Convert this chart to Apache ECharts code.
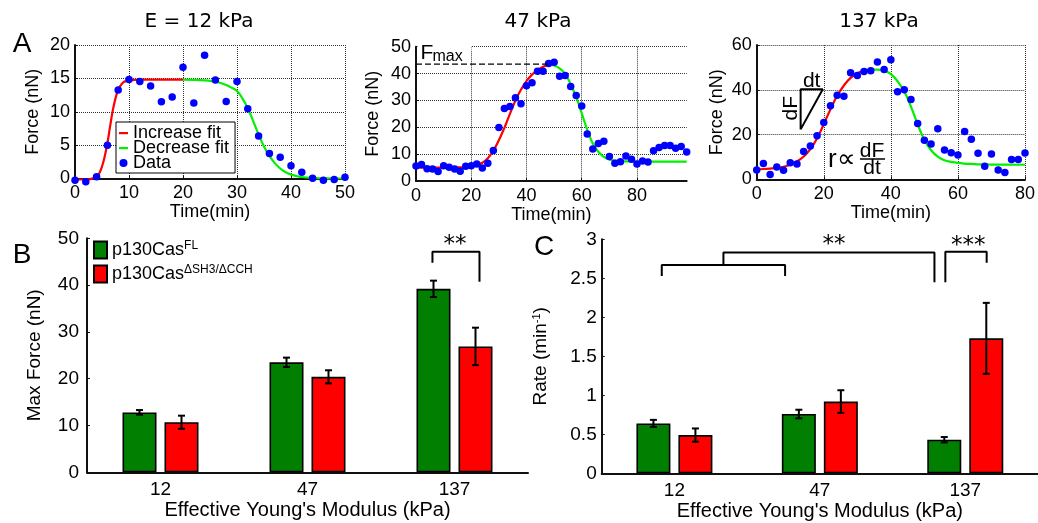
<!DOCTYPE html>
<html>
<head>
<meta charset="utf-8">
<script src="https://cdn.jsdelivr.net/npm/echarts@6/dist/echarts.min.js"></script>
<style>
  html, body { margin: 0; padding: 0; background: #fff; }
  #chart { width: 1038px; height: 523px; }
</style>
</head>
<body>
<div id="chart"></div>
<script>
// ---- Force traces (nN) sampled every 2 min ----
const time12 = [0,2,4,6,8,10,12,14,16,18,20,22,24,26,28,30,32,34,36,38,40,42,44,46,48,50];
const force12 = [-0.25,-0.5,0.25,5,13.25,14.85,14.55,13.85,11.5,12.2,16.65,11.3,18.45,14.75,11.55,14.55,10.45,6.35,3.75,3.2,1.9,0.95,0.05,-0.25,-0.15,0.2];
const riseFit12 = [[0,-0.15],[1,-0.15],[2,-0.15],[3,-0.05],[3.5,0.1],[4,0.3],[4.5,0.8],[5,1.8],[5.5,3.3],[6,5.3],[6.5,7.8],[7,10.2],[7.5,12],[8,13.3],[8.5,14],[9,14.45],[9.5,14.6],[10,14.7],[11,14.78],[12,14.8],[14,14.8],[16,14.8],[18,14.8],[20,14.8]];
const fallFit12 = [[20,14.8],[22,14.78],[24,14.7],[26,14.5],[27,14.3],[28,14],[29,13.6],[30,13.1],[31,12],[32,10.5],[33,8.6],[34,6.6],[35,4.8],[36,3.4],[37,2.3],[38,1.5],[39,0.95],[40,0.6],[41,0.38],[42,0.22],[44,0.08],[46,0.03],[48,0.01],[50,0]];

const time47 = [0,2,4,6,8,10,12,14,16,18,20,22,24,26,28,30,32,34,36,38,40,42,44,46,48,50,52,54,56,58,60,62,64,66,68,70,72,74,76,78,80,82,84,86,88,90,92,94,96,98];
const force47 = [5.6,6.1,4.6,4.5,3.5,5.7,5.1,4.5,3.6,5.5,5.7,6.3,4.8,6.6,11.4,19.9,27,27.7,31,28.8,35.5,36.6,40.9,40.9,43.7,44.2,39,39.3,35.2,31.8,27.9,17.5,11.9,14,14.8,9.1,6.6,7.2,9.3,8.1,6.3,7.4,7.1,11.3,12.5,13.2,13.2,12.2,12.8,10.8];
const riseFit47 = [[0,5],[4,5],[8,5],[12,5],[16,5.05],[18,5.2],[20,5.4],[22,5.9],[24,6.8],[26,8.5],[28,11.3],[30,15.2],[32,19.8],[34,25],[36,30],[38,34],[40,37.2],[42,39.6],[44,41.3],[46,42.5],[48,43.3]];
const fallFit47 = [[48,43.3],[50,43],[52,41.9],[54,39.8],[56,36],[58,31.2],[60,25.2],[62,19],[64,14],[66,10.9],[68,9],[70,8],[72,7.6],[74,7.4],[76,7.3],[80,7.25],[84,7.2],[88,7.2],[92,7.2],[98,7.2]];
const fMax47 = 43.5;

const time137 = [0,2,4,6,8,10,12,14,16,18,20,22,24,26,28,30,32,34,36,38,40,42,44,46,48,50,52,54,56,58,60,62,64,66,68,70,72,74,76,78,80];
const force137 = [4.2,7.1,2.2,5.5,4,7.4,6.8,12.4,14.9,19.5,25.4,32.9,37.5,37.1,47.6,46.4,48.2,48.5,52.4,49.1,53.4,39.1,40,35.6,24.9,17.4,15.8,22.6,13.1,11.9,10.9,21.3,17.9,11.6,5.8,11.3,4.2,3,8.8,8.8,11.8];
const riseFit137 = [[0,4.5],[2,4.6],[4,4.8],[6,5.1],[8,5.6],[10,6.6],[12,8],[14,10.2],[16,13.5],[18,18.3],[20,24.6],[22,31.3],[24,37.3],[26,41.9],[28,45.3],[30,47.4],[32,48.5],[34,49]];
const fallFit137 = [[34,49],[36,49],[38,48.4],[40,47],[42,43.8],[44,39.2],[46,32.5],[48,24.5],[50,17.6],[52,13],[54,10.1],[56,8.5],[58,7.8],[60,7.3],[62,7],[64,6.85],[66,6.7],[70,6.6],[74,6.55],[80,6.5]];

// ---- Summary bars ----
const moduli = ['12', '47', '137'];
const maxForceFL = [12.8, 23.5, 39.2];
const maxForceFLErr = [0.5, 1.0, 1.75];
const maxForceMut = [10.7, 20.4, 26.9];
const maxForceMutErr = [1.4, 1.4, 4.0];
const rateFL = [0.64, 0.76, 0.43];
const rateFLErr = [0.045, 0.055, 0.035];
const rateMut = [0.49, 0.92, 1.73];
const rateMutErr = [0.085, 0.145, 0.455];

const FL_NAME = 'p130Cas FL';
const MUT_NAME = 'p130Cas \u0394SH3/\u0394CCH';

// ---- Styling ----
const FONT = '"Liberation Sans", Arial, sans-serif';
const TITLE_FONT = '"DejaVu Sans", sans-serif';
const BAR_W = 34;
const BAR_GAP_PX = 8;
const CAP = 3.5;
const GREEN_BAR = '#007f00';
const RED_BAR = '#ff0000';
const FIT_RED = '#ff0000';
const FIT_GREEN = '#00f000';
// short dash used as the legend key of a fit curve (blank moves keep the key box square)
const LINE_KEY = 'path://M0,0 M9,8 M0,3 L9,3 L9,5.2 L0,5.2 Z';

const zip = (xs, ys) => xs.map((x, i) => [x, ys[i]]);
const withIndex = (vals, errs) => vals.map((v, i) => [i, v, errs[i]]);

function traceX(grid, max, interval, hideMax) {
  return {
    type: 'value', gridIndex: grid, min: 0, max: max, interval: interval,
    name: 'Time(min)', nameLocation: 'middle', nameGap: 20,
    nameTextStyle: { fontSize: 18, fontFamily: FONT, color: '#000' },
    axisLine: { lineStyle: { color: '#111', width: 2 } },
    axisTick: { inside: true, length: 3, lineStyle: { color: '#111' } },
    axisLabel: { fontSize: 18, margin: 6, color: '#000', fontFamily: FONT, showMaxLabel: !hideMax },
    splitLine: { show: true, showMaxLine: !hideMax, lineStyle: { type: 'dotted', color: '#333', width: 1 } }
  };
}
function traceY(grid, max, interval, gap) {
  return {
    type: 'value', gridIndex: grid, min: 0, max: max, interval: interval,
    name: 'Force (nN)', nameLocation: 'middle', nameGap: gap,
    nameTextStyle: { fontSize: 18, fontFamily: FONT, color: '#000' },
    axisLine: { show: true, lineStyle: { color: '#111', width: 2 } },
    axisTick: { show: true, inside: true, length: 3, lineStyle: { color: '#111' } },
    axisLabel: { fontSize: 18, margin: 5, color: '#000', fontFamily: FONT },
    splitLine: { show: true, lineStyle: { type: 'dotted', color: '#333', width: 1 } }
  };
}
function catX(grid) {
  return {
    type: 'category', gridIndex: grid, data: moduli,
    name: "Effective Young's Modulus (kPa)", nameLocation: 'middle', nameGap: 27,
    nameTextStyle: { fontSize: 20, fontFamily: FONT, color: '#000' },
    axisLine: { lineStyle: { color: '#111', width: 2 } },
    axisTick: { alignWithLabel: true, inside: true, length: 3, lineStyle: { color: '#111' } },
    axisLabel: { fontSize: 19, margin: 8, color: '#000', fontFamily: FONT }
  };
}
function barY(grid, max, interval, name, gap, margin) {
  return {
    type: 'value', gridIndex: grid, min: 0, max: max, interval: interval,
    name: name, nameLocation: 'middle', nameGap: gap,
    nameTextStyle: { fontSize: 19, fontFamily: FONT, color: '#000',
      rich: { sup: { fontSize: 11, fontFamily: FONT, color: '#000', verticalAlign: 'top', lineHeight: 10 } } },
    axisLine: { show: true, lineStyle: { color: '#111', width: 2 } },
    axisTick: { show: true, inside: true, length: 3, lineStyle: { color: '#111' } },
    axisLabel: { fontSize: 19, margin: margin, color: '#000', fontFamily: FONT },
    splitLine: { show: false }
  };
}
function fitLine(name, color, x, data) {
  return { type: 'line', name: name, xAxisIndex: x, yAxisIndex: x, data: data, smooth: 0.5,
    symbol: 'none', clip: false, lineStyle: { color: color, width: 2.2 }, itemStyle: { color: color }, z: 3 };
}
function dots(x, data) {
  return { type: 'scatter', name: 'Data', xAxisIndex: x, yAxisIndex: x, data: data, symbolSize: 7.5, clip: false,
    itemStyle: { color: '#0000ff', opacity: 1 }, z: 4 };
}
function annoLine(x, y, data, extra) {
  return Object.assign({ type: 'line', xAxisIndex: x, yAxisIndex: y, data: data, symbol: 'none', clip: false,
    lineStyle: { color: '#000', width: 2 }, z: 5, silent: true }, extra || {});
}
function bars(name, color, x, y, data) {
  return { type: 'bar', name: name, xAxisIndex: x, yAxisIndex: y, data: data, barWidth: BAR_W,
    barGap: (BAR_GAP_PX / BAR_W * 100).toFixed(1) + '%',
    itemStyle: { color: color, borderColor: '#000', borderWidth: 1.6 } };
}
function errorBars(x, y, side, data) {
  return {
    type: 'custom', xAxisIndex: x, yAxisIndex: y, data: data, z: 6, silent: true,
    renderItem: function (params, api) {
      const i = api.value(0), v = api.value(1), e = api.value(2);
      const hi = api.coord([i, v + e]);
      const lo = api.coord([i, v - e]);
      const cx = hi[0] + side * (BAR_W + BAR_GAP_PX) / 2;
      const seg = (x1, y1, x2, y2) => ({ type: 'line', shape: { x1: x1, y1: y1, x2: x2, y2: y2 },
        style: { stroke: '#000', lineWidth: 2 } });
      return { type: 'group', children: [
        seg(cx, hi[1], cx, lo[1]),
        seg(cx - CAP, hi[1], cx + CAP, hi[1]),
        seg(cx - CAP, lo[1], cx + CAP, lo[1])
      ] };
    }
  };
}
function label(x, y, text, size, family, align, extra) {
  const a = align || 'center';
  return Object.assign({ type: 'text', x: x, y: y, z: 100,
    style: { text: text, fontSize: size, fontFamily: family || FONT, fill: '#000',
      align: a, verticalAlign: 'middle', textAlign: a, textVerticalAlign: 'middle' } }, extra || {});
}

const legendNames = {};
legendNames[FL_NAME] = 'p130Cas{sup|FL}';
legendNames[MUT_NAME] = 'p130Cas{sup|\u0394SH3/\u0394CCH}';

const option = {
  animation: false,
  backgroundColor: '#fff',
  grid: [
    { left: 75, top: 45, width: 270, height: 133.5 },
    { left: 416, top: 46.7, width: 270.7, height: 134.3 },
    { left: 756.7, top: 45, width: 270.6, height: 134.3 },
    { left: 87, top: 238.3, width: 441, height: 234 },
    { left: 601.7, top: 239.3, width: 440, height: 234 }
  ],
  xAxis: [
    traceX(0, 50, 10, false),
    traceX(1, 98, 20, true),
    traceX(2, 80, 20, false),
    catX(3),
    { type: 'value', gridIndex: 3, min: 0, max: 3, show: false },
    catX(4),
    { type: 'value', gridIndex: 4, min: 0, max: 3, show: false }
  ],
  yAxis: [
    traceY(0, 20, 5, 33),
    traceY(1, 50, 10, 34),
    traceY(2, 60, 20, 31),
    barY(3, 50, 10, 'Max Force (nN)', 43, 8),
    barY(4, 3, 0.5, 'Rate (min{sup|-1})', 51, 5)
  ],
  legend: [
    {
      data: [
        { name: 'Increase fit', icon: LINE_KEY },
        { name: 'Decrease fit', icon: LINE_KEY },
        { name: 'Data', icon: 'circle' }
      ],
      selectedMode: false,
      left: 116, top: 122, orient: 'vertical', itemWidth: 9, itemHeight: 8, itemGap: -3,
      padding: [2, 6, 1, 3], borderColor: '#000', borderWidth: 1, backgroundColor: '#fff',
      textStyle: { fontSize: 18, lineHeight: 15, fontFamily: FONT, color: '#000' }
    },
    {
      data: [FL_NAME, MUT_NAME], selectedMode: false,
      left: 93, top: 240, orient: 'vertical', icon: 'rect', itemWidth: 13, itemHeight: 17, itemGap: 4,
      padding: 0,
      formatter: function (name) { return legendNames[name]; },
      textStyle: { fontSize: 18, lineHeight: 20, fontFamily: FONT, color: '#000',
        rich: { sup: { fontSize: 12, lineHeight: 12, fontFamily: FONT, color: '#000', verticalAlign: 'top' } } }
    }
  ],
  series: [
    // E = 12 kPa
    fitLine('Increase fit', FIT_RED, 0, riseFit12),
    fitLine('Decrease fit', FIT_GREEN, 0, fallFit12),
    dots(0, zip(time12, force12)),
    // 47 kPa
    annoLine(1, 1, [[0, fMax47], [48, fMax47]], { lineStyle: { color: '#000', width: 1.3, type: [6, 3] } }),
    fitLine('Increase fit', FIT_RED, 1, riseFit47),
    fitLine('Decrease fit', FIT_GREEN, 1, fallFit47),
    dots(1, zip(time47, force47)),
    // 137 kPa
    fitLine('Increase fit', FIT_RED, 2, riseFit137),
    fitLine('Decrease fit', FIT_GREEN, 2, fallFit137),
    dots(2, zip(time137, force137)),
    annoLine(2, 2, [[13.1, 22.3], [13.1, 40.2], [19.7, 40.2], [13.1, 22.3]]),
    // Max force
    bars(FL_NAME, GREEN_BAR, 3, 3, maxForceFL),
    bars(MUT_NAME, RED_BAR, 3, 3, maxForceMut),
    errorBars(3, 3, -1, withIndex(maxForceFL, maxForceFLErr)),
    errorBars(3, 3, 1, withIndex(maxForceMut, maxForceMutErr)),
    annoLine(4, 3, [[2.35, 44.8], [2.35, 47.1], [2.67, 47.1], [2.67, 40.7]]),
    // Rate
    bars(FL_NAME, GREEN_BAR, 5, 4, rateFL),
    bars(MUT_NAME, RED_BAR, 5, 4, rateMut),
    errorBars(5, 4, -1, withIndex(rateFL, rateFLErr)),
    errorBars(5, 4, 1, withIndex(rateMut, rateMutErr)),
    annoLine(6, 4, [[0.413, 2.53], [0.413, 2.67], [1.261, 2.67], [1.261, 2.53]]),
    annoLine(6, 4, [[0.837, 2.67], [0.837, 2.83], [2.288, 2.83], [2.288, 2.45]]),
    annoLine(6, 4, [[2.363, 2.45], [2.363, 2.84], [2.647, 2.84], [2.647, 2.70]])
  ],
  graphic: [
    label(199, 22, 'E = 12 kPa', 20, TITLE_FONT),
    label(538, 22, '47 kPa', 20, TITLE_FONT),
    label(879, 22, '137 kPa', 20, TITLE_FONT),
    label(22, 44, 'A', 28),
    label(22, 255, 'B', 28),
    label(544, 247, 'C', 28),
    { type: 'rect', z: 90, shape: { x: 417.5, y: 42, width: 54, height: 9 }, style: { fill: '#fff' } },
    label(420.5, 53, 'F', 21, FONT, 'left'),
    label(432.5, 57, 'max', 16, FONT, 'left'),
    label(811.7, 81, 'dt', 21),
    label(791, 108.3, 'dF', 21, FONT, 'center', { rotation: Math.PI / 2 }),
    label(828, 159.5, 'r\u221D', 26, FONT, 'left'),
    label(872, 151, 'dF', 21),
    label(872, 168, 'dt', 21),
    { type: 'line', z: 100, shape: { x1: 860, y1: 159, x2: 885, y2: 159 }, style: { stroke: '#000', lineWidth: 1.5 } },
    label(455, 245, '**', 23, TITLE_FONT),
    label(834, 245, '**', 23, TITLE_FONT),
    label(968.3, 246, '***', 23, TITLE_FONT)
  ]
};

const chart = echarts.init(document.getElementById('chart'), null, { renderer: 'canvas' });
chart.setOption(option);
</script>
</body>
</html>
